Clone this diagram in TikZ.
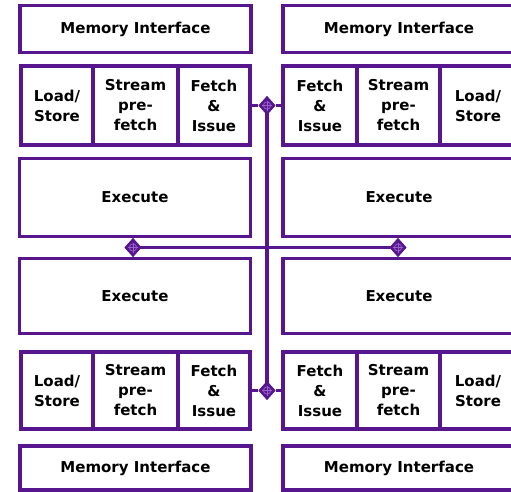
\documentclass[tikz,border=0pt]{standalone}
\usepackage{fontspec}
\setmainfont{DejaVu Sans}
\usetikzlibrary{shapes.geometric}
\definecolor{vpurple}{RGB}{88,22,142}
\definecolor{vlight}{RGB}{150,100,200}
\tikzset{
  box/.style={draw=vpurple, line width=3.6pt, fill=white, inner sep=0pt,
    align=center, font=\bfseries\fontsize{15}{20}\selectfont, text=black},
  wire/.style={draw=vpurple, line width=3.2pt},
  junction/.style={diamond, fill=vpurple, minimum width=17pt, minimum height=19pt, inner sep=0pt,
    path picture={
      \draw[vlight, line width=0.7pt] (path picture bounding box.center) circle (3.6pt);
      \draw[vlight, line width=0.7pt] ([yshift=-5pt]path picture bounding box.center) -- ([yshift=5pt]path picture bounding box.center);
      \draw[vlight, line width=0.7pt] ([xshift=-5pt]path picture bounding box.center) -- ([xshift=5pt]path picture bounding box.center);
    }}
}
\begin{document}
\begin{tikzpicture}[x=1pt,y=-1pt]
\useasboundingbox (0,0) rectangle (511,491);
\clip (0,0) rectangle (511,491);
\fill[white] (0,0) rectangle (511,491);
% connectors (drawn first, behind boxes)
\node[junction] (jT) at (267,105.5) {};
\node[junction] (jB) at (267,390.5) {};
\node[junction] (jL) at (133,247.5) {};
\node[junction] (jR) at (398,247.5) {};
\draw[wire] (jT.center) -- (jB.center);
\draw[wire] (jL.center) -- (jR.center);
% memory interfaces
\node[box, minimum width=231pt, minimum height=47pt] (miTL) at (135.5,29) {Memory Interface};
\node[box, minimum width=232pt, minimum height=47pt] (miTR) at (399,29) {Memory Interface};
\node[box, minimum width=231pt, minimum height=44pt] (miBL) at (135.5,468) {Memory Interface};
\node[box, minimum width=232pt, minimum height=44pt] (miBR) at (399,468) {Memory Interface};
% execute
\node[box, minimum width=231pt, minimum height=78pt] (exTL) at (135,197.5) {Execute};
\node[box, minimum width=232pt, minimum height=78pt] (exTR) at (399,197.5) {Execute};
\node[box, minimum width=231pt, minimum height=75pt] (exBL) at (135,296) {Execute};
\node[box, minimum width=232pt, minimum height=75pt] (exBR) at (399,296) {Execute};
% top cells left
\node[box, minimum width=72pt, minimum height=79pt] (lsTL) at (57,105.5) {Load/\\Store};
\node[box, minimum width=85pt, minimum height=79pt] (spTL) at (135.5,105.5) {Stream\\pre-\\fetch};
\node[box, minimum width=72pt, minimum height=79pt] (fiTL) at (214,105.5) {Fetch\\\&\\Issue};
% top cells right
\node[box, minimum width=74pt, minimum height=79pt] (fiTR) at (320,105.5) {Fetch\\\&\\Issue};
\node[box, minimum width=83pt, minimum height=79pt] (spTR) at (398.5,105.5) {Stream\\pre-\\fetch};
\node[box, minimum width=76pt, minimum height=79pt] (lsTR) at (478,105.5) {Load/\\Store};
% bottom cells left
\node[box, minimum width=72pt, minimum height=77pt] (lsBL) at (57,390.5) {Load/\\Store};
\node[box, minimum width=85pt, minimum height=77pt] (spBL) at (135.5,390.5) {Stream\\pre-\\fetch};
\node[box, minimum width=72pt, minimum height=77pt] (fiBL) at (214,390.5) {Fetch\\\&\\Issue};
% bottom cells right
\node[box, minimum width=74pt, minimum height=77pt] (fiBR) at (320,390.5) {Fetch\\\&\\Issue};
\node[box, minimum width=83pt, minimum height=77pt] (spBR) at (398.5,390.5) {Stream\\pre-\\fetch};
\node[box, minimum width=76pt, minimum height=77pt] (lsBR) at (478,390.5) {Load/\\Store};
% short links to junctions
\draw[wire] (fiTL.east) -- (jT) -- (fiTR.west);
\draw[wire] (fiBL.east) -- (jB) -- (fiBR.west);
% redraw junctions on top
\node[junction] at (jT) {};
\node[junction] at (jB) {};
\node[junction] at (jL) {};
\node[junction] at (jR) {};
\end{tikzpicture}
\end{document}
